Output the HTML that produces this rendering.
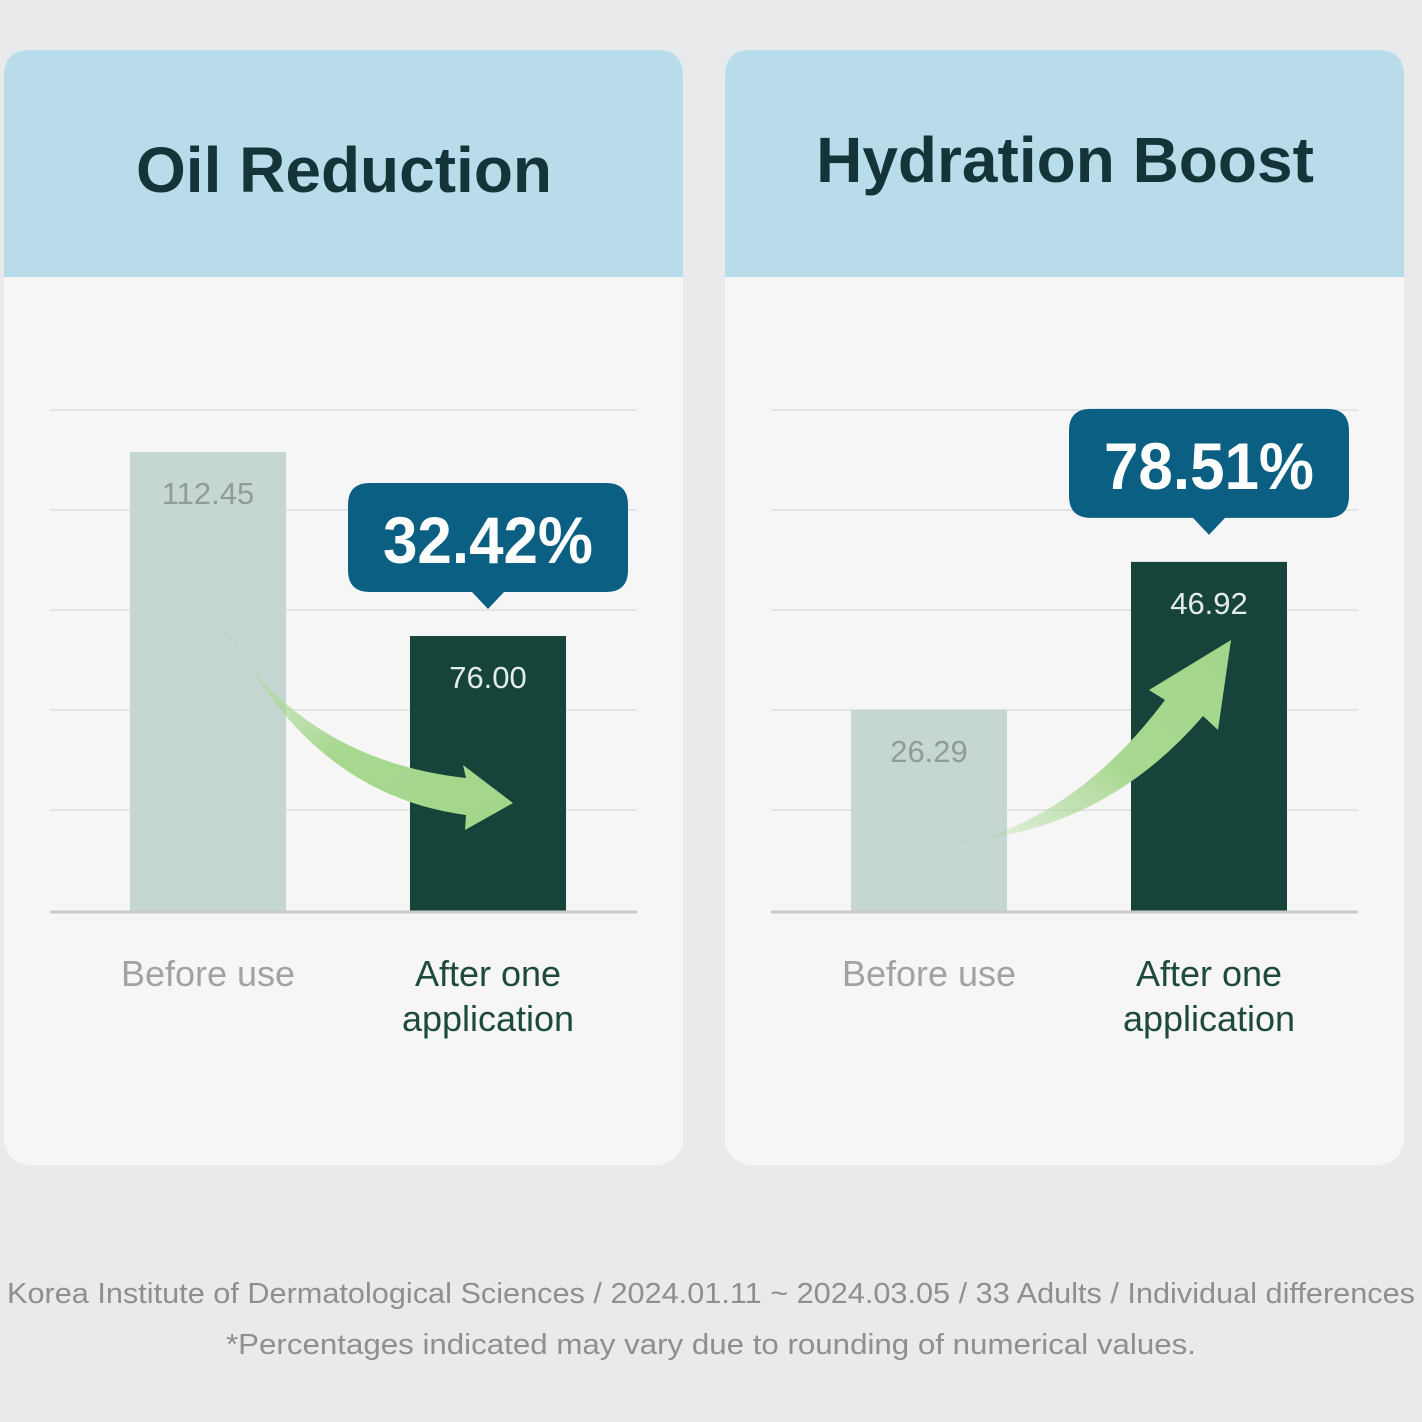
<!DOCTYPE html>
<html><head><meta charset="utf-8"><style>
html,body{margin:0;padding:0;background:#e9eaeb;}
svg{display:block;font-family:"Liberation Sans",sans-serif;}
</style></head><body>
<svg id="chart" width="1422" height="1422" viewBox="0 0 1422 1422">
<defs>
<linearGradient id="g1" x1="0" y1="0" x2="1" y2="1"><stop offset="0" stop-color="#a8d890" stop-opacity="0.1"/><stop offset="0.5" stop-color="#a8d890"/><stop offset="1" stop-color="#a2d68a"/></linearGradient>
<linearGradient id="g2" x1="0" y1="1" x2="1" y2="0"><stop offset="0" stop-color="#a8d890" stop-opacity="0.1"/><stop offset="0.5" stop-color="#a8d890"/><stop offset="1" stop-color="#a2d68a"/></linearGradient>
</defs>
<rect width="1422" height="1422" fill="#e9eaeb"/>
<g id="root"></g>
<text x="711" y="1303" text-anchor="middle" font-size="29" fill="#8d8f90" textLength="1408" lengthAdjust="spacingAndGlyphs">Korea Institute of Dermatological Sciences / 2024.01.11 ~ 2024.03.05 / 33 Adults / Individual differences</text>
<text x="711" y="1354" text-anchor="middle" font-size="29" fill="#8d8f90" textLength="970" lengthAdjust="spacingAndGlyphs">*Percentages indicated may vary due to rounding of numerical values.</text>
</svg>
<script>
const titles = ["Oil Reduction", "Hydration Boost"];
const categories = ["Before use", "After one application"];
const oilValues = [112.45, 76.00];
const hydrationValues = [26.29, 46.92];
const changeLabels = ["32.42%", "78.51%"];
const oilDomain = [21.3, 120.8];
const hydrationDomain = [-1.9, 68.1];

const NS = "http://www.w3.org/2000/svg";
const root = document.getElementById("root");
function mk(tag, attrs, parent){const e=document.createElementNS(NS,tag);for(const k in attrs)e.setAttribute(k,attrs[k]);(parent||root).appendChild(e);return e;}

function panel(i, values, domain, dir){
  const ox = i===0 ? 4 : 725;
  const g = mk("g",{});
  
  
  const card = mk("rect",{x:ox,y:50,width:679,height:1115,rx:26,fill:"#f6f6f6"},g);
  
  
  const hp = mk("path",{d:`M${ox} 277 V76 Q${ox} 50 ${ox+26} 50 H${ox+653} Q${ox+679} 50 ${ox+679} 76 V277 Z`,fill:"#b8dce9"},g);
  
  
  const t = mk("text",{x:ox+340,y:i===0?192:182,"text-anchor":"middle","font-size":64,fill:"#15343a","font-weight":"bold"},g);
  t.textContent = titles[i];
  
  

  const x0 = ox+46, x1 = ox+633, top=410, base=912;
  const y = v => base - (v-domain[0])/(domain[1]-domain[0])*(base-top);
  for(let k=0;k<5;k++){
    const gy = top + k*100;
    const l = mk("line",{x1:x0,x2:x1,y1:gy,y2:gy,stroke:"#e4e4e4","stroke-width":2},g);
    
    
  }
  const bx = [ox+126, ox+406];
  const fills = ["#c6d6d3","#16443a"];
  const lblFill = ["#8f9c99","#e4ece9"];
  values.forEach((v,j)=>{
    const r = mk("rect",{x:bx[j],y:y(v),width:156,height:base-y(v),fill:fills[j]},g);
    
    
    const vt = mk("text",{x:bx[j]+78,y:y(v)+52,"text-anchor":"middle","font-size":31,fill:lblFill[j]},g);
    vt.textContent = v.toFixed(2);
    
    
  });
  const ax = mk("line",{x1:x0,x2:x1,y1:base,y2:base,stroke:"#c9cbcb","stroke-width":3},g);
  
  
  // category labels
  const c1 = mk("text",{x:bx[0]+78,y:986,"text-anchor":"middle","font-size":36,fill:"#a0a3a4"},g);
  c1.textContent = categories[0];
  
  
  const words = categories[1].split(" ");
  const c2 = mk("text",{x:bx[1]+78,y:986,"text-anchor":"middle","font-size":36,fill:"#1e4a3c"},g);
  c2.textContent = words.slice(0,2).join(" ");
  
  
  const c3 = mk("text",{x:bx[1]+78,y:1031,"text-anchor":"middle","font-size":36,fill:"#1e4a3c"},g);
  c3.textContent = words.slice(2).join(" ");
  
  

  // arrow
  let ap;
  if(dir<0){
    ap = `M${ox+218} 628 Q${ox+300} 760 ${ox+462} 778 L${ox+459} 765 L${ox+509} 803 L${ox+461} 830 L${ox+462} 815 Q${ox+310} 795 ${ox+226} 632 Z`;
  } else {
    ap = `M${ox+230} 846 Q${ox+350} 820 ${ox+440} 700 L${ox+424} 690 L${ox+506} 640 L${ox+493} 730 L${ox+478} 716 Q${ox+380} 830 ${ox+234} 842 Z`;
  }
  const ar = mk("path",{d:ap,fill:dir<0?"url(#g1)":"url(#g2)"},g);
  
  

  // callout
  const cy = y(values[1]) - 153;
  const cx = bx[1]+78;
  const cb = mk("path",{d:`M${cx-140} ${cy+22} Q${cx-140} ${cy} ${cx-118} ${cy} H${cx+118} Q${cx+140} ${cy} ${cx+140} ${cy+22} V${cy+87} Q${cx+140} ${cy+109} ${cx+118} ${cy+109} H${cx+16} L${cx} ${cy+126} L${cx-16} ${cy+109} H${cx-118} Q${cx-140} ${cy+109} ${cx-140} ${cy+87} Z`,fill:"#0b5f82"},g);
  
  
  const ct = mk("text",{x:cx,y:cy+80,"text-anchor":"middle","font-size":66,"font-weight":"bold",fill:"#ffffff",textLength:210,lengthAdjust:"spacingAndGlyphs"},g);
  ct.textContent = changeLabels[i];
  
  
}
panel(0, oilValues, oilDomain, -1);
panel(1, hydrationValues, hydrationDomain, 1);
</script>
</body></html>
